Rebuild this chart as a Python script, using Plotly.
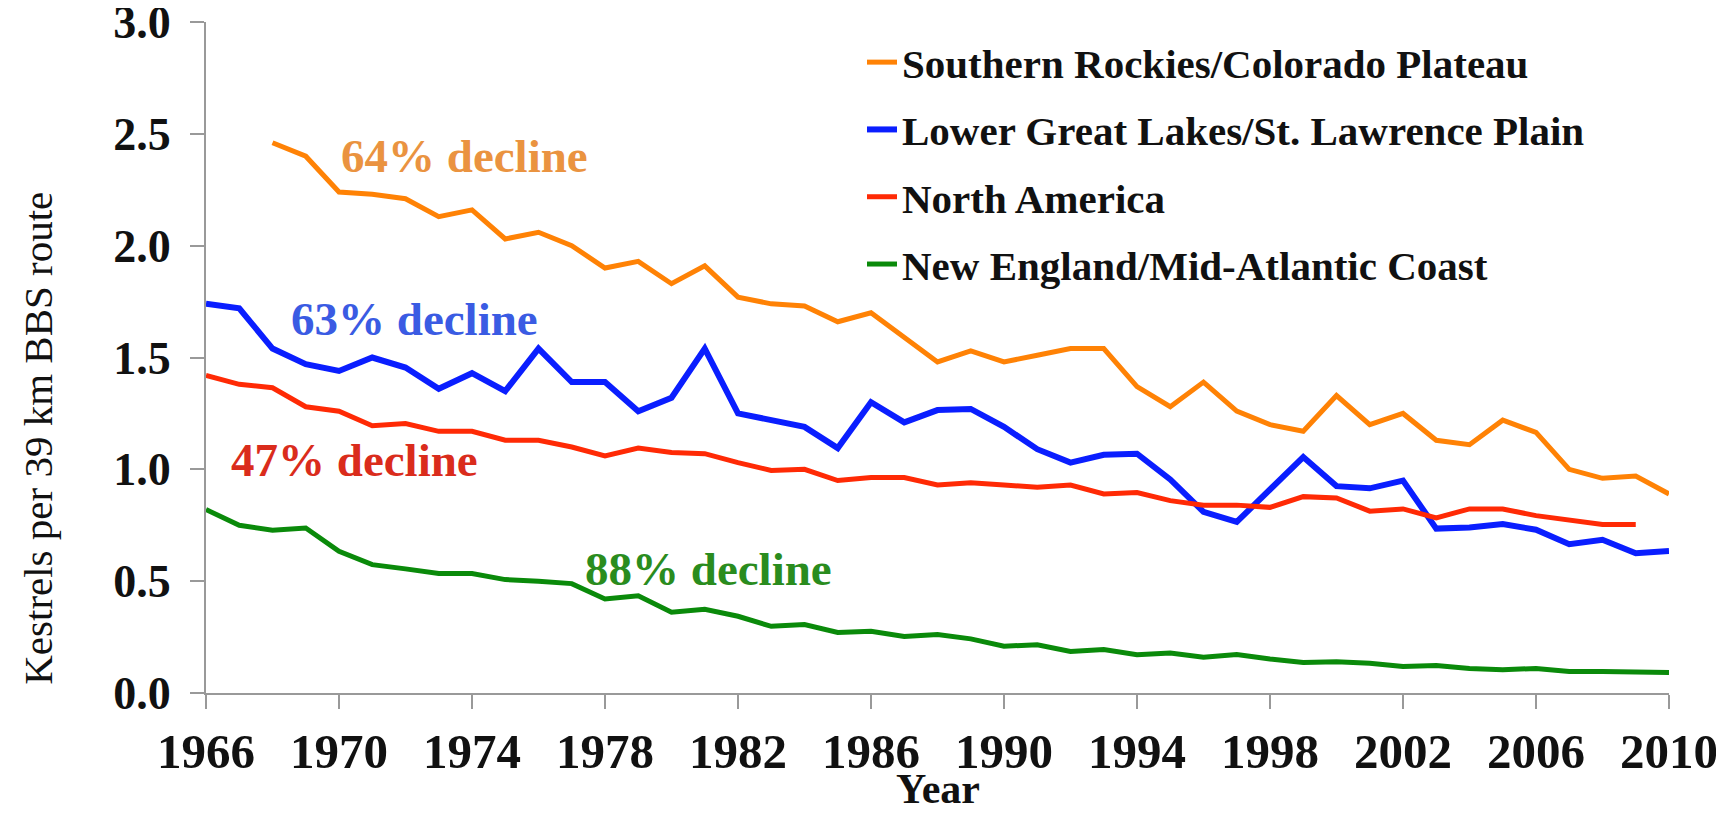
import plotly.graph_objects as go

rockies_years = list(range(1968, 2011))
rockies = [2.46, 2.40, 2.24, 2.23, 2.21, 2.13, 2.16, 2.03, 2.06, 2.00, 1.90, 1.93, 1.83, 1.91,
           1.77, 1.74, 1.73, 1.66, 1.70, 1.59, 1.48, 1.53, 1.48, 1.51, 1.54, 1.54, 1.37, 1.28,
           1.39, 1.26, 1.20, 1.17, 1.33, 1.20, 1.25, 1.13, 1.11, 1.22, 1.165, 1.00, 0.96, 0.97, 0.89]

lakes_years = list(range(1966, 2011))
lakes = [1.74, 1.72, 1.54, 1.47, 1.44, 1.50, 1.455, 1.36, 1.43, 1.35, 1.54, 1.39, 1.39, 1.26,
         1.32, 1.54, 1.25, 1.22, 1.19, 1.095, 1.30, 1.21, 1.265, 1.27, 1.19, 1.09, 1.03, 1.065,
         1.07, 0.955, 0.81, 0.765, 0.91, 1.055, 0.925, 0.915, 0.95, 0.735, 0.74, 0.755, 0.73,
         0.665, 0.685, 0.625, 0.635]

na_years = list(range(1966, 2010))
north_america = [1.42, 1.38, 1.365, 1.28, 1.26, 1.195, 1.205, 1.17, 1.17, 1.13, 1.13, 1.10,
                 1.06, 1.095, 1.075, 1.07, 1.03, 0.995, 1.00, 0.95, 0.963, 0.963, 0.93, 0.94,
                 0.93, 0.92, 0.93, 0.89, 0.896, 0.86, 0.84, 0.84, 0.83, 0.878, 0.872, 0.813,
                 0.823, 0.783, 0.823, 0.823, 0.793, 0.771, 0.753, 0.753]

ne_years = list(range(1966, 2011))
new_england = [0.82, 0.75, 0.728, 0.738, 0.634, 0.574, 0.555, 0.534, 0.534, 0.507, 0.50, 0.489,
               0.42, 0.435, 0.361, 0.374, 0.343, 0.298, 0.306, 0.271, 0.276, 0.253, 0.261,
               0.242, 0.209, 0.216, 0.186, 0.194, 0.171, 0.179, 0.16, 0.172, 0.152, 0.136,
               0.14, 0.133, 0.118, 0.123, 0.11, 0.104, 0.11, 0.096, 0.096, 0.094, 0.092]

series_names = ["Southern Rockies/Colorado Plateau", "Lower Great Lakes/St. Lawrence Plain",
                "North America", "New England/Mid-Atlantic Coast"]
line_colors = ["#FF8205", "#0A1EFF", "#FF2A05", "#0A8A0A"]
line_widths = [5, 6, 5, 5]

labels = ["64% decline", "63% decline", "47% decline", "88% decline"]
label_x = [1973.77, 1972.27, 1970.46, 1981.1]
label_y = [2.40, 1.67, 1.04, 0.555]
label_colors = ["#EA9340", "#3A5BE3", "#DA2C1C", "#2A8C1E"]

x_ticks = list(range(1966, 2011, 4))
y_ticks = [0, 0.5, 1.0, 1.5, 2.0, 2.5, 3.0]

y_title = "Kestrels per 39 km BBS route"
x_title = "Year"

serif = "Liberation Serif, Times New Roman, serif"

fig = go.Figure()
data = [(rockies_years, rockies), (lakes_years, lakes), (na_years, north_america), (ne_years, new_england)]
for i, (xs, ys) in enumerate(data):
    fig.add_trace(go.Scatter(x=xs, y=ys, mode="lines", name=series_names[i],
                             legendgroup=f"g{i}",
                             line=dict(color=line_colors[i], width=line_widths[i])))

for t, x, y, c in zip(labels, label_x, label_y, label_colors):
    fig.add_annotation(x=x, y=y, text=t, showarrow=False,
                       font=dict(family=serif, size=47, color=c, weight="bold"))

# axis titles (y title sits lower than centre, as in the reference)
fig.add_annotation(xref="paper", yref="paper", x=-0.115, y=0.38, text=y_title,
                   textangle=-90, showarrow=False, xanchor="center", yanchor="middle",
                   font=dict(family=serif, size=41, color="#111111"))
fig.add_annotation(xref="paper", yref="paper", x=0.5, y=-0.18, text=x_title,
                   showarrow=False, xanchor="center", yanchor="bottom",
                   font=dict(family=serif, size=42, color="#111111", weight="bold"))

fig.update_layout(
    width=1724, height=814,
    margin=dict(l=198, r=63, t=14, b=129),
    paper_bgcolor="white", plot_bgcolor="white",
    font=dict(family=serif, color="black"),
    showlegend=True,
    legend=dict(x=0.4484, y=0.9896, xanchor="left", yanchor="top",
                font=dict(family=serif, size=41, color="#111111", weight="bold"),
                bgcolor="rgba(0,0,0,0)", tracegroupgap=11, itemwidth=30),
    xaxis=dict(range=[1966, 2010], tickvals=x_ticks, ticks="outside", ticklen=14,
               tickcolor="#999999", tickwidth=2, showline=True, linecolor="#999999",
               linewidth=2, showgrid=False, zeroline=False, automargin=False,
               ticklabeloverflow="allow",
               tickfont=dict(family=serif, size=49, color="#111111", weight="bold")),
    yaxis=dict(range=[0, 3.0001], tickvals=y_ticks, tickformat=".1f", ticks="outside", ticklen=14,
               tickcolor="#999999", tickwidth=2, showline=True, linecolor="#999999",
               linewidth=2, showgrid=False, zeroline=False, ticklabelstandoff=10,
               automargin=False, ticklabeloverflow="allow",
               tickfont=dict(family=serif, size=46, color="#111111", weight="bold")),
)

fig.write_html("out.html")
